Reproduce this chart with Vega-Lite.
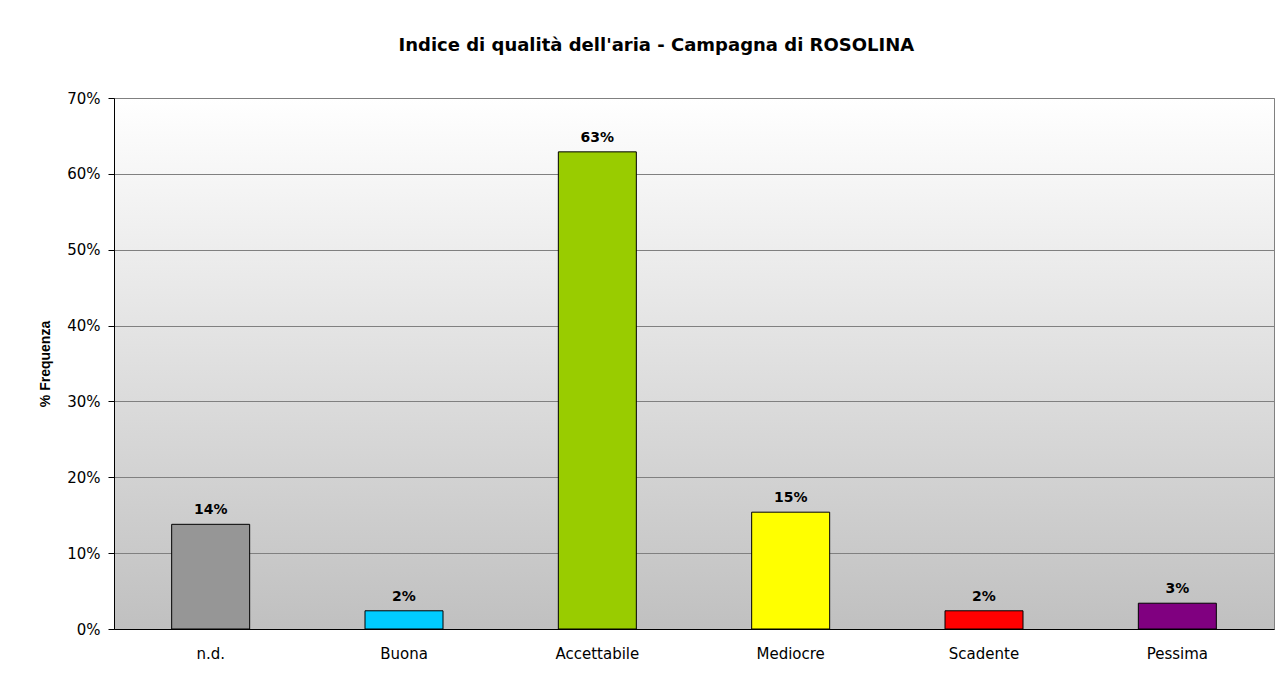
{
  "$schema": "https://vega.github.io/schema/vega-lite/v6.json",
  "autosize": {"type": "none"},
  "width": 1160,
  "height": 531,
  "padding": {"left": 114, "top": 98, "right": 11, "bottom": 44},
  "background": "white",
  "view": {
    "stroke": "#808080",
    "strokeWidth": 1,
    "fill": {
      "gradient": "linear",
      "x1": 0, "y1": 0, "x2": 0, "y2": 1,
      "stops": [
        {"offset": 0, "color": "#ffffff"},
        {"offset": 1, "color": "#c0c0c0"}
      ]
    }
  },
  "title": {
    "text": "Indice di qualità dell'aria - Campagna di ROSOLINA",
    "font": "DejaVu Sans",
    "fontSize": 18,
    "fontWeight": "bold",
    "color": "#000000",
    "anchor": "middle",
    "frame": "bounds",
    "baseline": "bottom",
    "offset": 18
  },
  "data": {
    "values": [
      {"categoria": "n.d.", "frequenza": 0.138},
      {"categoria": "Buona", "frequenza": 0.024},
      {"categoria": "Accettabile", "frequenza": 0.629},
      {"categoria": "Mediocre", "frequenza": 0.154},
      {"categoria": "Scadente", "frequenza": 0.024},
      {"categoria": "Pessima", "frequenza": 0.034}
    ]
  },
  "encoding": {
    "x": {
      "field": "categoria",
      "type": "nominal",
      "sort": null,
      "scale": {"paddingInner": 0, "paddingOuter": 0},
      "axis": {
        "title": null,
        "labelAngle": 0,
        "labelFont": "DejaVu Sans",
        "labelFontSize": 15,
        "labelColor": "#000000",
        "ticks": false,
        "labelPadding": 17,
        "domainColor": "#000000",
        "domainWidth": 1,
        "grid": false
      }
    },
    "y": {
      "field": "frequenza",
      "type": "quantitative",
      "scale": {"domain": [0, 0.7], "nice": false},
      "axis": {
        "title": "% Frequenza",
        "titleFont": "Liberation Sans",
        "titleFontSize": 14,
        "titleFontWeight": "bold",
        "titleColor": "#000000",
        "titlePadding": 14,
        "format": ".0%",
        "values": [0, 0.1, 0.2, 0.3, 0.4, 0.5, 0.6, 0.7],
        "labelFont": "DejaVu Sans",
        "labelFontSize": 15,
        "labelColor": "#000000",
        "labelPadding": 8,
        "tickSize": 6,
        "tickColor": "#000000",
        "domainColor": "#000000",
        "grid": true,
        "gridColor": "#808080",
        "gridWidth": 1,
        "gridOpacity": 1
      }
    }
  },
  "layer": [
    {
      "mark": {"type": "bar", "width": 78, "stroke": "#000000", "strokeWidth": 1},
      "encoding": {
        "color": {
          "field": "categoria",
          "type": "nominal",
          "legend": null,
          "scale": {
            "domain": ["n.d.", "Buona", "Accettabile", "Mediocre", "Scadente", "Pessima"],
            "range": ["#969696", "#00ccff", "#99cc00", "#ffff00", "#ff0000", "#800080"]
          }
        }
      }
    },
    {
      "mark": {
        "type": "text",
        "font": "DejaVu Sans",
        "fontSize": 14,
        "fontWeight": "bold",
        "color": "#000000",
        "baseline": "alphabetic",
        "dy": -10
      },
      "encoding": {
        "text": {"field": "frequenza", "type": "quantitative", "format": ".0%"}
      }
    }
  ]
}
